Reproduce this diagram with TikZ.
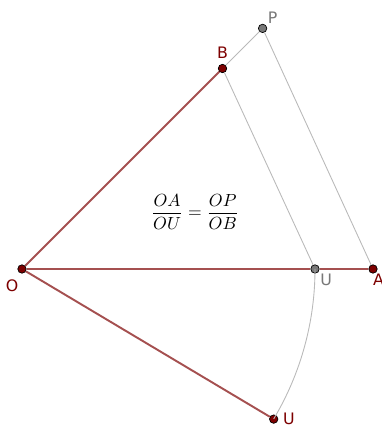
\documentclass[tikz,border=0pt]{standalone}
\usepackage{amsmath}
\usepackage{fontspec}
\newfontfamily\lblfont{DejaVu Sans}
\usetikzlibrary{positioning}
\definecolor{segred}{RGB}{165,80,80}
\definecolor{ptred}{RGB}{125,0,0}
\definecolor{auxgray}{RGB}{185,185,185}
\definecolor{ptgray}{RGB}{120,120,120}

\begin{document}
\begin{tikzpicture}[x=0.02cm, y=0.02cm,
  pt/.style={circle, draw=black, fill=ptred, minimum size=4.8pt,
             inner sep=0pt, line width=0.4pt},
  gpt/.style={pt, fill=ptgray},
  seg/.style={-, segred, line width=1.1pt},
  aux/.style={-, auxgray, line width=0.5pt},
  lbl/.style={font=\lblfont\small, text=ptred, inner sep=1pt},
  glbl/.style={lbl, text=ptgray}
]
\useasboundingbox (0,0) rectangle (382,427);

% Points
\node[pt]  (O)  at (22,158)    {};
\node[pt]  (A)  at (373,158)   {};
\node[gpt] (U)  at (315,158)   {};
\node[pt]  (U2) at (273.7,7.9) {};
\node[pt]  (B)  at (222.5,358.5) {};
\node[gpt] (P)  at (262.6,398.6) {};

% Labels
\node[lbl, below left=3pt and -1pt of O] (lO) {O};
\node[lbl, below right=0pt and -3pt of A] (lA) {A};
\node[glbl, below right=0pt and 0pt of U] (lU) {U};
\node[lbl, right=1.5pt of U2] (lU2) {U};
\node[lbl, above=2pt of B] (lB) {B};
\node[glbl, above right=0pt and 0pt of P] (lP) {P};

% Construction lines
\draw[aux] (B) -- (P);
\draw[aux] (P) -- (A);
\draw[aux] (B) -- (U);
\draw[aux] (U.center) arc[start angle=0, end angle=-30.8, radius=5.86cm];

% Segments from O
\draw[seg] (O) -- (U);
\draw[seg] (U) -- (A);
\draw[seg] (O) -- (B);
\draw[seg] (O) -- (U2);

% Ratio
\node (ratio) at (195,215) {$\displaystyle \frac{OA}{OU}=\frac{OP}{OB}$};
\end{tikzpicture}
\end{document}
